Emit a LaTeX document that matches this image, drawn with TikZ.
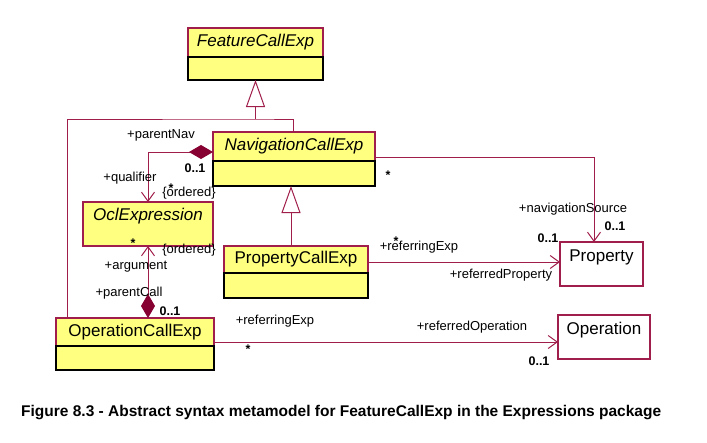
\documentclass[tikz,border=0pt]{standalone}
\usepackage{fontspec}
\setmainfont{Liberation Sans}
\usetikzlibrary{arrows.meta,positioning,calc}
\definecolor{umlfill}{RGB}{255,255,128}
\definecolor{umlline}{RGB}{160,30,75}
\definecolor{umldiam}{RGB}{135,0,50}
\tikzset{
    %Define style for the name part of a class
    kasse/.style={
           rectangle,
           draw=umlline, line width=1.2pt,
           fill=umlfill,
           minimum height=28pt,
           inner sep=0pt, outer sep=0pt,
           font=\fontsize{17}{19}\selectfont},
    kursiv/.style={
           kasse,
           font=\fontsize{17}{19}\selectfont\itshape},
    %Define style for the empty compartment
    rom/.style={
           rectangle,
           draw=black, line width=1.2pt,
           fill=umlfill,
           minimum height=24pt,
           inner sep=0pt, outer sep=0pt},
    %Plain box, name at the top
    ting/.style={
           rectangle,
           draw=umlline, line width=1.2pt,
           inner sep=0pt, outer sep=0pt,
           text height=19pt, text depth=25pt,
           font=\fontsize{17}{19}\selectfont},
    % Define connector style
    pil/.style={
           draw=umlline,
           line width=1pt},
    % Generalization
    arv/.style={
           pil,
           -{Triangle[length=27pt,width=19pt,open,fill=white]}},
    % Composition to navigable end
    del/.style={
           pil,
           {Diamond[length=24pt,width=14pt,color=umldiam]}-{Straight Barb[length=9pt,width=13pt]}},
    % Navigable end
    ret/.style={
           pil,
           -{Straight Barb[length=9pt,width=13pt]}},
    % Role names
    merk/.style={
           inner sep=0pt,
           font=\fontsize{13}{15}\selectfont},
    % Multiplicities
    tall/.style={
           inner sep=0pt,
           font=\fontsize{12.5}{15}\selectfont\bfseries}
}

\begin{document}
\begin{tikzpicture}[x=1pt, y=-1pt]
    \useasboundingbox (0,0) rectangle (707,442);
    % classes
    \node[kursiv, minimum width=135pt, minimum height=29pt] (feature) at (255.5,42.5) {FeatureCallExp};
    \node[rom, minimum width=135pt, minimum height=23pt, below=0pt of feature] (featurebox) {};
    \node[kursiv, minimum width=162pt, minimum height=29pt] (nav) at (294,146.5) {NavigationCallExp};
    \node[rom, minimum width=162pt, minimum height=25pt, below=0pt of nav] (navbox) {};
    \node[ting, fill=umlfill, minimum width=130pt, text height=18pt, text depth=26pt,
          font=\fontsize{17}{19}\selectfont\itshape] (ocl) at (148,224) {OclExpression};
    \node[kasse, minimum width=144pt, minimum height=27pt] (prcall) at (296,259.5) {PropertyCallExp};
    \node[rom, minimum width=144pt, minimum height=25pt, below=0pt of prcall] (prcallbox) {};
    \node[kasse, minimum width=158pt] (opcall) at (135,332) {OperationCallExp};
    \node[rom, minimum width=158pt, below=0pt of opcall] (opcallbox) {};
    \node[ting, minimum width=83pt] (prop) at (601.5,264) {Property};
    \node[ting, minimum width=92pt] (oper) at (604,337) {Operation};

    % generalizations
    \coordinate (fork) at (255.5,119);
    \draw[arv] (fork) -- (featurebox.south);
    \draw[pil] ([xshift=-1pt]nav.north) |- (fork) -| ([xshift=11pt]opcall.north west);
    \draw[arv] ([xshift=-5pt]prcall.north) -- ([xshift=-5pt]prcall.north |- navbox.south);

    % associations
    \draw[del] (nav.west |- 0,152) -| (ocl.north);
    \draw[del] (ocl.south |- opcall.north) -- (ocl.south);
    \draw[ret] (nav.east |- 0,157) -| ([xshift=-7.5pt]prop.north);
    \draw[ret] (prcall.east |- 0,262) -- (prop.west |- 0,262);
    \draw[ret] (opcall.east |- 0,342) -- (oper.west |- 0,342);

    % role names and multiplicities
    \node[merk] (parentnav) at (161,135) {+parentNav};
    \node[tall] (parentnavm) at (195,168) {0..1};
    \node[merk] (qualifier) at (130,178) {+qualifier};
    \node[tall] (qualifierm) at (171,188) {*};
    \node[merk] (qualord) at (189,193) {\{ordered\}};
    \node[tall] (argumentm) at (133,243) {*};
    \node[merk] (argord) at (189,250) {\{ordered\}};
    \node[merk] (argument) at (136,267) {+argument};
    \node[merk] (parentcall) at (129,293) {+parentCall};
    \node[tall] (parentcallm) at (170,311) {0..1};
    \node[tall] (navsrcstar) at (388,175) {*};
    \node[merk] (navsrc) at (573,209) {+navigationSource};
    \node[tall] (navsrcm) at (615,226) {0..1};
    \node[tall] (prrefstar) at (396,241) {*};
    \node[merk] (prref) at (419,247) {+referringExp};
    \node[tall] (prpropm) at (548,238) {0..1};
    \node[merk] (prprop) at (501,275) {+referredProperty};
    \node[merk] (opref) at (275,321) {+referringExp};
    \node[tall] (oprefstar) at (248,349) {*};
    \node[merk] (opoper) at (472,327) {+referredOperation};
    \node[tall] (opoperm) at (539,361) {0..1};

    % caption
    \node[anchor=base west, inner sep=0pt, font=\fontsize{15.5}{18}\selectfont\bfseries]
        (caption) at (21,416) {Figure 8.3 - Abstract syntax metamodel for FeatureCallExp in the Expressions package};
\end{tikzpicture}
\end{document}
